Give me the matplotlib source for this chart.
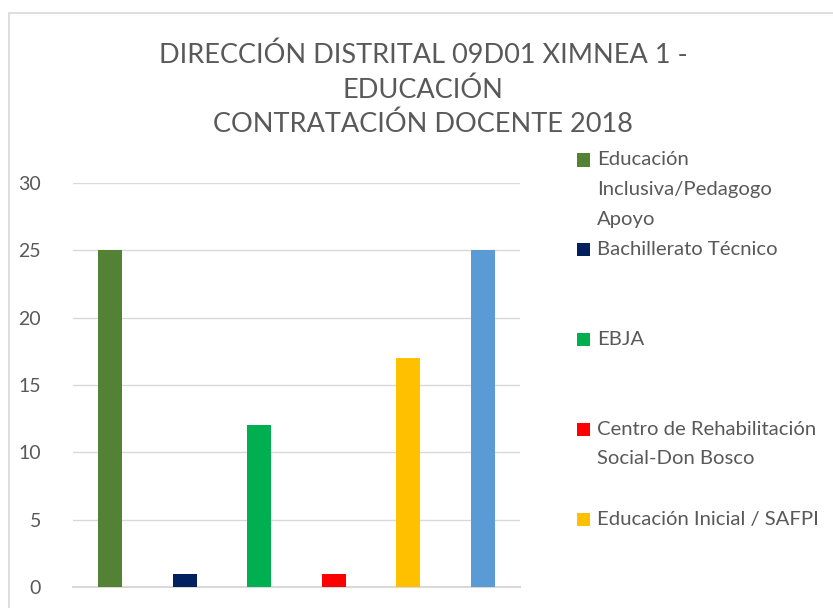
import matplotlib.pyplot as plt
from matplotlib.patches import Rectangle

# data
series = ["Educación\nInclusiva/Pedagogo\nApoyo", "Bachillerato Técnico", "EBJA",
          "Centro de Rehabilitación\nSocial-Don Bosco", "Educación Inicial / SAFPI", ""]
values = [25, 1, 12, 1, 17, 25]
colors = ["#548235", "#002060", "#00B050", "#FF0000", "#FFC000", "#5B9BD5"]
yticks = [0, 5, 10, 15, 20, 25, 30]
title = "DIRECCIÓN DISTRITAL 09D01 XIMNEA 1 -\nEDUCACIÓN\nCONTRATACIÓN DOCENTE 2018"

W, H = 833, 608
fig = plt.figure(figsize=(W / 100, H / 100), dpi=100)

def fx(px):
    return px / W

def fy(py):
    return 1 - py / H

# chart border (cropped at right and bottom)
fig.add_artist(Rectangle((fx(9), -0.1), 1.2, fy(13) + 0.1, transform=fig.transFigure,
                         fill=False, edgecolor="#d9d9d9", linewidth=1.2))

ax = fig.add_axes([fx(73), fy(587), fx(520) - fx(73), fy(183) - fy(587)])
x = list(range(len(values)))
ax.bar(x, values, width=0.32, color=colors, zorder=3)
ax.set_xlim(-0.5, 5.5)
ax.set_ylim(0, 30)
ax.set_yticks(yticks)
ax.set_xticks([])
ax.grid(axis="y", color="#d9d9d9", linewidth=1, zorder=0)
for s in ["top", "right", "left"]:
    ax.spines[s].set_visible(False)
ax.spines["bottom"].set_color("#d9d9d9")
ax.spines["bottom"].set_linewidth(1.5)
ax.tick_params(axis="y", length=0, pad=23, labelsize=14, labelcolor="#595959")
for t in ax.get_yticklabels():
    t.set_family("Lato")

fig.text(fx(423), fy(90), title, ha="center", va="center", multialignment="center",
         family="Lato", fontsize=19.5, color="#595959", linespacing=1.45)

# legend, Excel style: marker next to the first line of each entry
line_h = 29.5
slot = 89.75
for i, lab in enumerate(series[:5]):
    yc = 160 + i * slot
    fig.add_artist(Rectangle((fx(577), fy(yc + 6.5)), fx(13), 13 / H, transform=fig.transFigure,
                             facecolor=colors[i], edgecolor="none"))
    for k, part in enumerate(lab.split("\n")):
        fig.text(fx(597), fy(yc + k * line_h), part, ha="left", va="center",
                 family="Lato", fontsize=14.6, color="#595959")

fig.savefig("out.png", dpi=100)
